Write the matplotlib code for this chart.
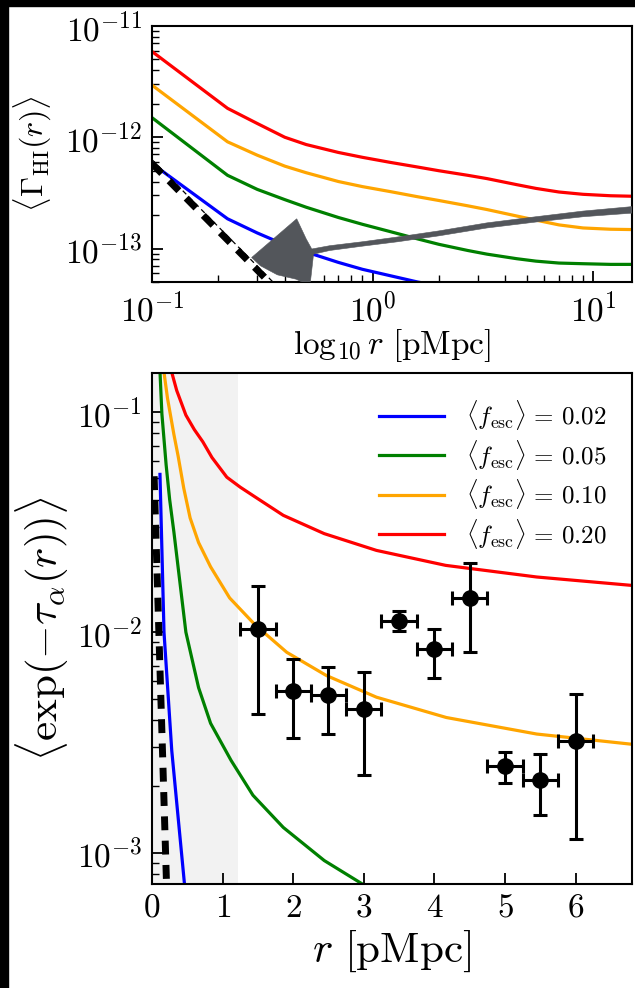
import matplotlib
matplotlib.use("Agg")
import matplotlib.pyplot as plt
from matplotlib.patches import Rectangle

plt.rcParams['font.family'] = 'serif'
plt.rcParams['font.serif'] = ['cmr10']
plt.rcParams['mathtext.fontset'] = 'cm'
plt.rcParams['axes.formatter.use_mathtext'] = True

W, H = 635, 988

# ---- top panel: <Gamma_HI(r)> ----
r_top = [0.1, 0.22, 0.3, 0.4, 0.5, 0.7, 0.9, 1.2, 1.6, 2.0, 2.7, 3.3, 4.5, 5.5, 7.0, 9.0, 12.0, 15.0]
gam_002 = [5.8e-13, 1.85e-13, 1.38e-13, 1.08e-13, 9.3e-14, 7.5e-14, 6.5e-14, 5.7e-14, 5.0e-14,
           4.6e-14, 4.1e-14, 3.8e-14, 3.4e-14, 3.3e-14, 3.1e-14, 3.0e-14, 2.9e-14, 2.9e-14]
gam_005 = [1.5e-12, 4.55e-13, 3.4e-13, 2.75e-13, 2.35e-13, 1.9e-13, 1.65e-13, 1.42e-13, 1.22e-13,
           1.09e-13, 9.6e-14, 8.9e-14, 8.1e-14, 7.7e-14, 7.4e-14, 7.3e-14, 7.2e-14, 7.2e-14]
gam_010 = [2.94e-12, 9.1e-13, 6.9e-13, 5.5e-13, 4.8e-13, 4.0e-13, 3.6e-13, 3.25e-13, 2.92e-13,
           2.7e-13, 2.42e-13, 2.24e-13, 1.96e-13, 1.8e-13, 1.63e-13, 1.53e-13, 1.49e-13, 1.48e-13]
gam_020 = [5.9e-12, 1.82e-12, 1.33e-12, 1.0e-12, 8.6e-13, 7.3e-13, 6.6e-13, 5.95e-13, 5.4e-13,
           5.0e-13, 4.55e-13, 4.25e-13, 3.75e-13, 3.47e-13, 3.22e-13, 3.07e-13, 2.98e-13, 2.95e-13]

# r^-2 guide lines
guide_r = [0.1, 0.4]
guide_thick = [5.8e-13, 3.6e-14]
guide_thin = [6.3e-13, 3.9e-14]

# outline of the grey simulation band
band_r = [0.283, 0.36, 0.453, 0.50, 0.53, 0.64, 0.9, 1.3, 2.0, 3.3, 5.5, 9.0, 15.0,
          15.0, 9.0, 5.5, 3.3, 2.0, 1.3, 0.9, 0.64, 0.54, 0.52, 0.45, 0.37, 0.31]
band_g = [8.3e-14, 1.25e-13, 1.85e-13, 1.22e-13, 9.9e-14, 1.06e-13, 1.15e-13, 1.27e-13,
          1.44e-13, 1.7e-13, 1.93e-13, 2.17e-13, 2.38e-13,
          2.08e-13, 1.93e-13, 1.73e-13, 1.53e-13, 1.3e-13, 1.15e-13, 1.05e-13, 9.6e-14,
          8.9e-14, 4.6e-14, 5.3e-14, 5.8e-14, 7.0e-14]

# ---- bottom panel: <exp(-tau_alpha(r))> ----
r_b002 = [0.113, 0.17, 0.28, 0.46, 0.5]
t_002 = [0.052, 0.01, 2.9e-3, 7.2e-4, 6.0e-4]
r_b005 = [0.11, 0.14, 0.2, 0.25, 0.31, 0.48, 0.66, 0.83, 1.12, 1.43, 1.86, 2.44, 2.98, 3.2]
t_005 = [0.16, 0.098, 0.0575, 0.04, 0.0285, 0.01, 5.6e-3, 3.86e-3, 2.62e-3, 1.82e-3, 1.3e-3,
         9.2e-4, 7.2e-4, 6.5e-4]
r_b010 = [0.165, 0.22, 0.31, 0.37, 0.45, 0.54, 0.66, 0.83, 1.1, 1.46, 1.91, 2.47, 3.18, 4.17, 5.45, 6.8]
t_010 = [0.155, 0.115, 0.079, 0.063, 0.045, 0.033, 0.0255, 0.0198, 0.0143, 0.0108, 8.1e-3,
         6.36e-3, 5.07e-3, 4.1e-3, 3.45e-3, 3.1e-3]
r_b020 = [0.27, 0.35, 0.48, 0.6, 0.72, 0.85, 1.06, 1.25, 1.46, 1.86, 2.44, 3.18, 4.16, 5.45, 6.8]
t_020 = [0.155, 0.125, 0.0966, 0.083, 0.0731, 0.062, 0.0505, 0.0455, 0.0411, 0.0339, 0.028,
         0.0235, 0.0201, 0.0178, 0.0163]

guide_b_r = [0.03, 0.21]
guide_b_t = [0.051, 6.5e-4]

obs_r = [1.5, 2.0, 2.5, 3.0, 3.5, 4.0, 4.5, 5.0, 5.5, 6.0]
obs_t = [0.0103, 5.43e-3, 5.19e-3, 4.48e-3, 0.0112, 8.35e-3, 0.0143, 2.48e-3, 2.13e-3, 3.2e-3]
obs_hi = [0.0162, 7.56e-3, 6.93e-3, 6.63e-3, 0.01245, 0.0103, 0.0205, 2.87e-3, 2.79e-3, 5.25e-3]
obs_lo = [4.25e-3, 3.3e-3, 3.45e-3, 2.25e-3, 0.0101, 6.2e-3, 8.1e-3, 2.07e-3, 1.48e-3, 1.15e-3]
obs_dr = 0.25

fesc_labels = [r'$\langle f_{\rm esc}\rangle\,=\,0.02$', r'$\langle f_{\rm esc}\rangle\,=\,0.05$',
               r'$\langle f_{\rm esc}\rangle\,=\,0.10$', r'$\langle f_{\rm esc}\rangle\,=\,0.20$']
colors = ['#0000ff', '#008000', '#ffa500', '#ff0000']

fig = plt.figure(figsize=(W / 100, H / 100), dpi=100, facecolor='white')
ax1 = fig.add_axes([152 / W, 1 - 282 / H, 480 / W, 256 / H])
ax2 = fig.add_axes([152 / W, 1 - 884 / H, 480 / W, 511 / H])

LW = 2.3

for g, c in zip([gam_002, gam_005, gam_010, gam_020], colors):
    ax1.plot(r_top, g, color=c, lw=LW)
ax1.plot(guide_r, guide_thick, color='k', lw=5, dashes=(2.0, 1.5), zorder=4)
ax1.plot(guide_r, guide_thin, color='k', lw=0.9, dashes=(4, 3), zorder=4)
ax1.fill(band_r, band_g, color='#53565b', lw=0.4, zorder=5)

ax1.set_xscale('log')
ax1.set_yscale('log')
ax1.set_xlim(0.1, 15)
ax1.set_ylim(5e-14, 1e-11)
ax1.set_xlabel(r'$\log_{10} r\ [\rm pMpc]$', fontsize=24, labelpad=0)
ax1.set_ylabel(r'$\langle \Gamma_{\rm HI}(r) \rangle$', fontsize=23, labelpad=8)

ax2.axvspan(0, 1.22, color='#f2f2f2', lw=0, zorder=0)
for rr, tt, c, lab in zip([r_b002, r_b005, r_b010, r_b020], [t_002, t_005, t_010, t_020],
                          colors, fesc_labels):
    ax2.plot(rr, tt, color=c, lw=LW, label=lab)
ax2.plot(guide_b_r, guide_b_t, color='k', lw=5, dashes=(2.0, 1.5), zorder=4)
yerr = [[t - lo for t, lo in zip(obs_t, obs_lo)], [hi - t for t, hi in zip(obs_t, obs_hi)]]
ax2.errorbar(obs_r, obs_t, xerr=obs_dr, yerr=yerr, fmt='o', color='k', ms=11,
             elinewidth=2.2, capsize=5, capthick=2.2, zorder=6)

ax2.set_yscale('log')
ax2.set_xlim(0, 6.8)
ax2.set_ylim(7.2e-4, 0.15)
ax2.set_xticks([0, 1, 2, 3, 4, 5, 6])
ax2.set_xlabel(r'$r\ [\rm pMpc]$', fontsize=31, labelpad=4)
ax2.set_ylabel(r'$\langle \exp(-\tau_{\alpha}(r)) \rangle$', fontsize=31, labelpad=4)
ax2.legend(loc='upper right', frameon=False, fontsize=18, handlelength=2.6,
           labelspacing=0.22, borderaxespad=0.6, handletextpad=0.9)

for ax in (ax1, ax2):
    ax.tick_params(which='both', direction='in', top=False, right=False,
                   labelsize=24, pad=7)
    ax.tick_params(which='major', length=8, width=1.3)
    ax.tick_params(which='minor', length=5, width=1.0)
    for s in ax.spines.values():
        s.set_linewidth(1.5)

# black strips at the left and top edge of the picture
fig.patches.append(Rectangle((0, 0), 7.5 / W, 1, transform=fig.transFigure,
                             color='black', zorder=10))
fig.patches.append(Rectangle((0, 1 - 6 / H), 1, 6 / H, transform=fig.transFigure,
                             color='black', zorder=10))

fig.savefig('out.png', dpi=100, facecolor=fig.get_facecolor())
